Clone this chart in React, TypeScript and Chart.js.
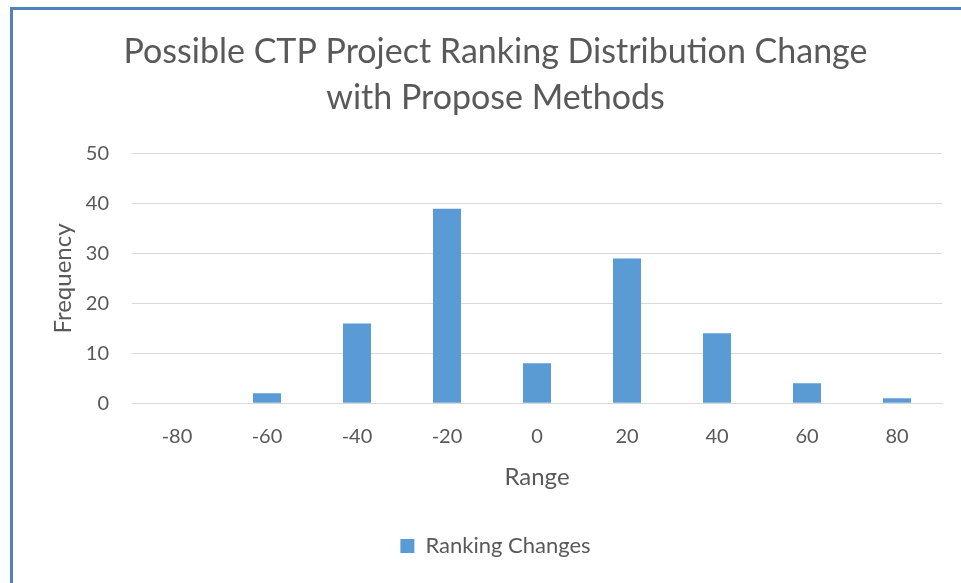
import React, { useEffect, useRef } from "react";
import { Chart, registerables } from "chart.js";

Chart.register(...registerables);

const categories = ["-80", "-60", "-40", "-20", "0", "20", "40", "60", "80"];
const rankingChanges = [0, 2, 16, 39, 8, 29, 14, 4, 1];
const titleLines = ["Possible CTP Project Ranking Distribution Change", "with Propose Methods"];
const seriesName = "Ranking Changes";
const xTitle = "Range";
const yTitle = "Frequency";

const TEXT = "#595959";
const FONT = "Lato, 'Open Sans', sans-serif";

export default function App() {
  const ref = useRef<HTMLCanvasElement | null>(null);
  useEffect(() => {
    if (!ref.current) return;
    const chart = new Chart(ref.current, {
      type: "bar",
      data: {
        labels: categories,
        datasets: [
          {
            label: seriesName,
            data: rankingChanges,
            backgroundColor: "#5B9BD5",
            borderWidth: 0,
            categoryPercentage: 1,
            barPercentage: 0.311,
          },
        ],
      },
      options: {
        animation: false,
        responsive: false,
        maintainAspectRatio: false,
        layout: { padding: { left: 49, right: 19, top: 29, bottom: 16 } },
        plugins: {
          title: {
            display: true,
            text: titleLines,
            color: TEXT,
            font: { family: FONT, size: 34, weight: "normal", lineHeight: 1.35 },
            padding: { top: 0, bottom: 33 },
          },
          legend: {
            display: true,
            position: "bottom",
            labels: {
              color: TEXT,
              font: { family: FONT, size: 22 },
              boxWidth: 14,
              boxHeight: 14,
              padding: 14,
            },
          },
          tooltip: { enabled: false },
        },
        scales: {
          x: {
            grid: { display: false },
            border: { color: "#D9D9D9", width: 1 },
            ticks: { color: TEXT, font: { family: FONT, size: 20 }, padding: 13 },
            title: {
              display: true,
              text: xTitle,
              color: TEXT,
              font: { family: FONT, size: 24 },
              padding: { top: 2, bottom: 29 },
            },
          },
          y: {
            min: 0,
            max: 50,
            afterFit: (s: any) => {
              s.width = 83;
            },
            ticks: { stepSize: 10, color: TEXT, font: { family: FONT, size: 20 }, padding: 23 },
            grid: { color: "#D9D9D9", drawTicks: false },
            border: { display: false },
            title: {
              display: true,
              text: yTitle,
              color: TEXT,
              font: { family: FONT, size: 24 },
              padding: { top: 0, bottom: 8 },
            },
          },
        },
      },
    });
    return () => chart.destroy();
  }, []);
  return (
    <div style={{ position: "fixed", left: 0, top: 0, width: 961, height: 583, background: "#fff" }}>
      <canvas ref={ref} width={961} height={583} style={{ position: "absolute", left: 0, top: 0 }} />
      <div
        style={{
          position: "absolute",
          left: 10,
          top: 7,
          right: 0,
          bottom: 0,
          borderLeft: "3px solid #4F81BD",
          borderTop: "3px solid #4F81BD",
          pointerEvents: "none",
        }}
      />
    </div>
  );
}
